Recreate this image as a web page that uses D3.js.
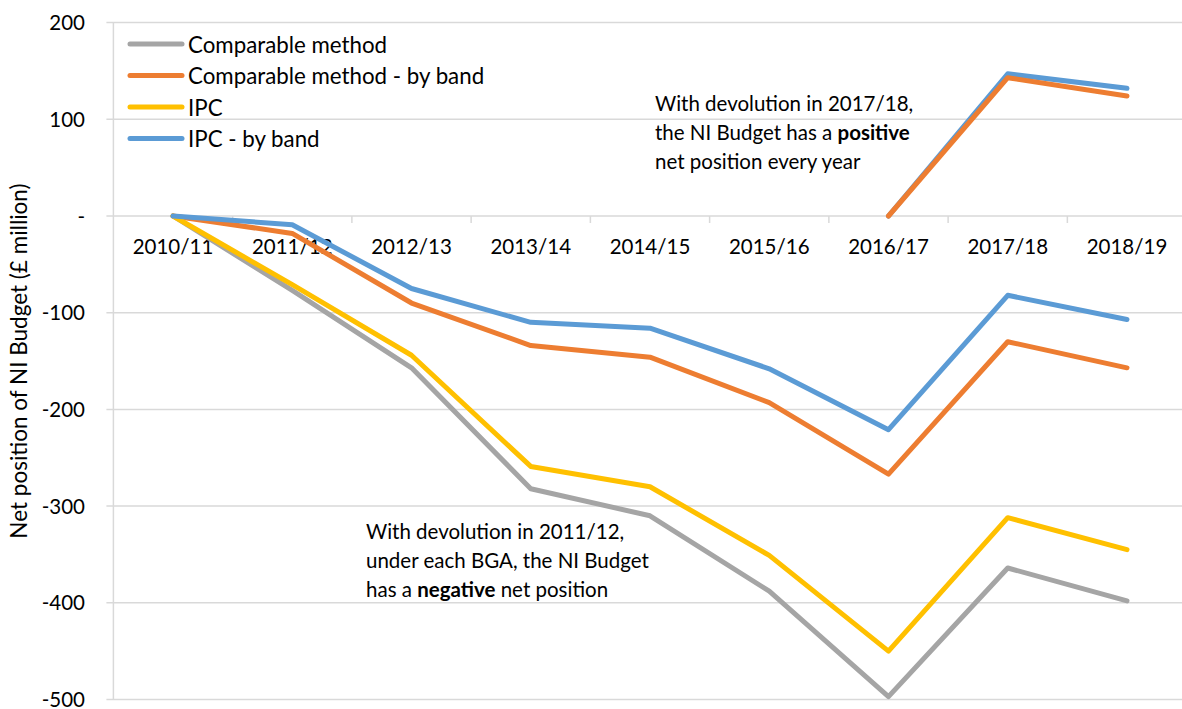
<!DOCTYPE html>
<html>
<head>
<meta charset="utf-8">
<script src="https://cdnjs.cloudflare.com/ajax/libs/d3/7.8.5/d3.min.js"></script>
<style>
  html, body { margin: 0; padding: 0; background: #fff; }
  svg { display: block; }
  text { font-family: Lato, "Open Sans", sans-serif; fill: #000; }
</style>
</head>
<body>
<svg id="chart" width="1182" height="709"></svg>
<script>
// ---- data ----
const categories = ["2010/11","2011/12","2012/13","2013/14","2014/15","2015/16","2016/17","2017/18","2018/19"];
const comparable       = [0, -77, -157, -282, -310, -388, -497, -364, -398];
const comparableByBand = [0, -18, -90, -134, -146, -193, -267, -130, -157];
const ipc              = [0, -71, -144, -259, -280, -351, -450, -312, -345];
const ipcByBand        = [0, -9, -75, -110, -116, -158, -221, -82, -107];
// devolution in 2017/18 scenario
const ipcByBand1718        = [null, null, null, null, null, null, 0, 147, 132];
const comparableByBand1718 = [null, null, null, null, null, null, 0, 143, 124];
const yTicks = [200, 100, 0, -100, -200, -300, -400, -500];
const yTickLabels = ["200", "100", "-", "-100", "-200", "-300", "-400", "-500"];
const legendNames = ["Comparable method", "Comparable method - by band", "IPC", "IPC - by band"];
const yTitle = "Net position of NI Budget (£ million)";
const noteTop = [["With devolution in 2017/18,"], ["the NI Budget has a ", "positive"], ["net position every year"]];
const noteBottom = [["With devolution in 2011/12,"], ["under each BGA, the NI Budget"], ["has a ", "negative", " net position"]];

const colors = { grey: "#A5A5A5", orange: "#ED7D31", yellow: "#FFC000", blue: "#5B9BD5" };

const series = [
  { name: legendNames[0], values: comparable, color: colors.grey, legend: true },
  { name: legendNames[1], values: comparableByBand, color: colors.orange, legend: true },
  { name: legendNames[2], values: ipc, color: colors.yellow, legend: true },
  { name: legendNames[3], values: ipcByBand, color: colors.blue, legend: true },
  { name: "IPC - by band (2017/18)", values: ipcByBand1718, color: colors.blue, legend: false },
  { name: "Comparable method - by band (2017/18)", values: comparableByBand1718, color: colors.orange, legend: false }
];

// ---- layout ----
const svg = d3.select("#chart");
const fontSize = 20.5;
const legendFont = 22.3;
const titleFont = 22.5;
const plot = { left: 113.4, right: 1186.6, top: 22.6, bottom: 699.5 };
const gridColor = "#D9D9D9";

const x = d3.scaleBand().domain(categories).range([plot.left, plot.right]).padding(0);
const y = d3.scaleLinear().domain([-500, 200]).range([plot.bottom, plot.top]);
const cx = c => x(c) + x.bandwidth() / 2;

// gridlines
svg.append("g").selectAll("line").data(yTicks).join("line")
  .attr("x1", plot.left - 7).attr("x2", plot.right)
  .attr("y1", d => y(d)).attr("y2", d => y(d))
  .attr("stroke", gridColor).attr("stroke-width", 1.5);

// y axis line
svg.append("line")
  .attr("x1", plot.left).attr("x2", plot.left)
  .attr("y1", y(200)).attr("y2", y(-500))
  .attr("stroke", gridColor).attr("stroke-width", 1.5);

// y tick labels
svg.append("g").selectAll("text").data(yTicks).join("text")
  .attr("x", 85).attr("y", d => y(d) - 0.5)
  .attr("text-anchor", "end").attr("dominant-baseline", "central")
  .style("font-size", fontSize + "px")
  .text((d, i) => yTickLabels[i]);

// category ticks along zero line
const boundaries = categories.map(c => x(c)).concat([x(categories[categories.length - 1]) + x.bandwidth()]);
svg.append("g").selectAll("line").data(boundaries.slice(1)).join("line")
  .attr("x1", d => d).attr("x2", d => d)
  .attr("y1", y(0)).attr("y2", y(0) + 7)
  .attr("stroke", gridColor).attr("stroke-width", 1.5);

// category labels
svg.append("g").selectAll("text").data(categories).join("text")
  .attr("x", d => cx(d)).attr("y", y(0) + 38)
  .attr("text-anchor", "middle")
  .style("font-size", fontSize + "px")
  .text(d => d);

// y title
svg.append("text")
  .attr("transform", `translate(27, ${(plot.top + plot.bottom) / 2}) rotate(-90)`)
  .attr("text-anchor", "middle")
  .style("font-size", titleFont + "px")
  .text(yTitle);

// lines
const line = d3.line()
  .defined(d => d.v !== null)
  .x(d => cx(d.c))
  .y(d => y(d.v));

svg.append("g").selectAll("path").data(series).join("path")
  .attr("d", s => line(s.values.map((v, i) => ({ c: categories[i], v }))))
  .attr("fill", "none")
  .attr("stroke", s => s.color)
  .attr("stroke-width", 5)
  .attr("stroke-linejoin", "round")
  .attr("stroke-linecap", "round");

// legend
const legendItems = series.filter(s => s.legend);
const lg = svg.append("g").selectAll("g").data(legendItems).join("g")
  .attr("transform", (d, i) => `translate(0, ${44 + i * 31.5})`);
lg.append("line")
  .attr("x1", 130).attr("x2", 182).attr("y1", 0).attr("y2", 0)
  .attr("stroke", d => d.color).attr("stroke-width", 5).attr("stroke-linecap", "round");
lg.append("text")
  .attr("x", 188).attr("y", 0).attr("dominant-baseline", "central")
  .style("font-size", legendFont + "px")
  .text(d => d.name);

// annotations
function note(lines, x0, y0) {
  const t = svg.append("text").style("font-size", fontSize + "px");
  lines.forEach((parts, i) => {
    parts.forEach((p, j) => {
      const ts = t.append("tspan").text(p);
      if (j === 0) ts.attr("x", x0).attr("y", y0 + i * 29);
      if (p === "positive" || p === "negative") ts.style("font-weight", "bold");
    });
  });
}
note(noteTop, 655, 111);
note(noteBottom, 366, 539);
</script>
</body>
</html>
